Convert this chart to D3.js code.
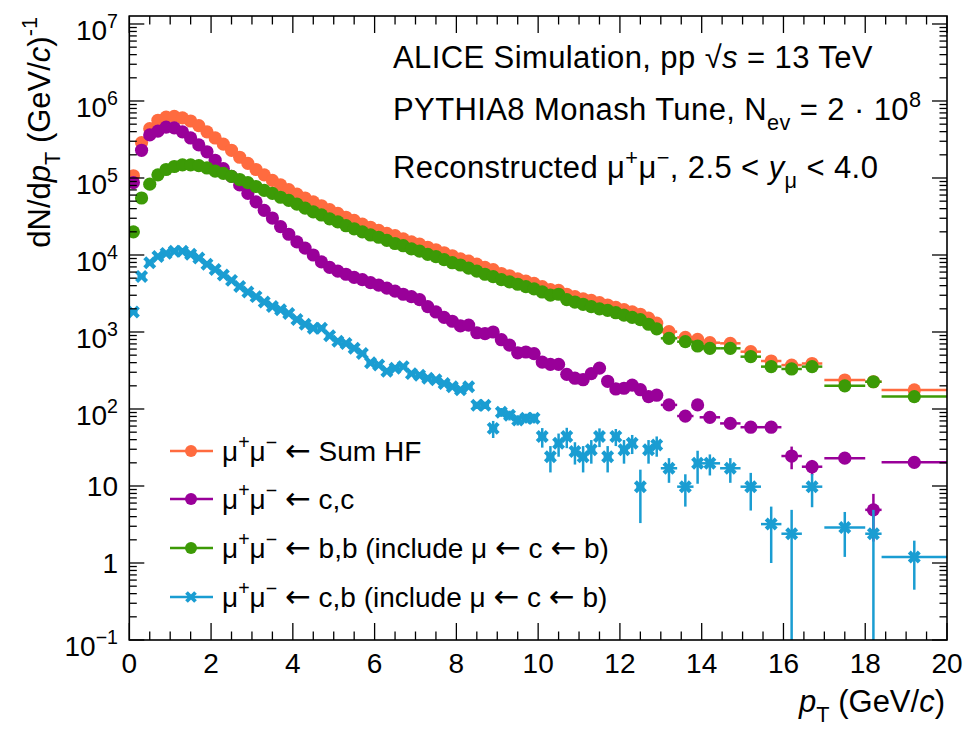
<!DOCTYPE html>
<html><head><meta charset="utf-8">
<script src="https://cdn.jsdelivr.net/npm/d3@7"></script>
<style>body{margin:0;background:#fff} text{font-family:"Liberation Sans",Arial,Helvetica,sans-serif;fill:#000}</style>
</head><body><svg id="c" width="972" height="731"></svg>
<script>
// ---------------- data ----------------
const ptCenter = [0.1,0.3,0.5,0.7,0.9,1.1,1.3,1.5,1.7,1.9,2.1,2.3,2.5,2.7,2.9,3.1,3.3,3.5,3.7,3.9,
  4.1,4.3,4.5,4.7,4.9,5.1,5.3,5.5,5.7,5.9,6.1,6.3,6.5,6.7,6.9,7.1,7.3,7.5,7.7,7.9,
  8.1,8.3,8.5,8.7,8.9,9.1,9.3,9.5,9.7,9.9,10.1,10.3,10.5,10.7,10.9,11.1,11.3,11.5,11.7,11.9,
  12.1,12.3,12.5,12.7,12.9,13.2,13.6,13.9,14.2,14.7,15.2,15.7,16.2,16.7,17.5,18.2,19.2];
const ptHalfWidth = [0.1,0.1,0.1,0.1,0.1,0.1,0.1,0.1,0.1,0.1,0.1,0.1,0.1,0.1,0.1,0.1,0.1,0.1,0.1,0.1,
  0.1,0.1,0.1,0.1,0.1,0.1,0.1,0.1,0.1,0.1,0.1,0.1,0.1,0.1,0.1,0.1,0.1,0.1,0.1,0.1,
  0.1,0.1,0.1,0.1,0.1,0.1,0.1,0.1,0.1,0.1,0.1,0.1,0.1,0.1,0.1,0.1,0.1,0.1,0.1,0.1,
  0.1,0.1,0.1,0.1,0.1,0.2,0.2,0.1,0.25,0.25,0.25,0.25,0.25,0.25,0.5,0.2,0.8];

const sumHF = [107000,288000,437000,562000,617000,631000,603000,550000,479000,398000,
  331000,275000,229000,186000,155000,129000,110000,93300,81300,70800,
  61700,55000,49000,43600,38900,34700,30900,28200,25100,22900,
  20900,19100,17800,16200,14800,13800,12600,11700,10700,9770,
  8910,8320,7590,6920,6460,5750,5370,4900,4570,4270,
  3890,3550,3470,3090,2880,2690,2570,2400,2240,2090,
  1950,1820,1700,1510,1300,
  1010,851,803,726,713,555,420,372,390,238,226,177];

const ccPairs = [87100,229000,363000,407000,457000,447000,398000,331000,269000,219000,
  170000,132000,105000,81300,63100,49000,38000,30200,23400,18600,
  14800,12300,10000,8130,6920,6170,5620,5130,4790,4370,
  4070,3720,3390,3090,2880,2630,2140,1820,1550,1380,
  1200,1230,977,955,1000,794,676,537,550,525,
  407,380,380,282,251,240,288,339,229,182,
  186,204,178,145,151,
  113,81,113,78,65,58,58,24.5,17.8,23,4.9,20.3];
const ccErr = [0,0,0,0,0,0,0,0,0,0,0,0,0,0,0,0,0,0,0,0,
  0,0,0,0,0,0,0,0,0,0,0,0,0,0,0,0,0,0,0,0,
  0,0,0,0,0,0,0,0,0,0,0,0,0,0,0,0,0,0,0,0,
  0,0,0,0,0,
  2,2,2,2,2,4,4,8,4,3,3,2.5];

const bbPairs = [20000,55000,83200,110000,129000,141000,148000,148000,145000,135000,
  123000,115000,105000,95500,87100,77600,69200,63100,56200,51300,
  45700,40700,36300,33100,29500,26900,24000,21900,20000,18200,
  17000,15500,14100,13200,12000,11200,10200,9550,8710,7940,
  7410,6760,6170,5620,5250,4790,4470,4170,3890,3630,
  3310,3020,3090,2630,2450,2290,2140,2000,1910,1780,
  1660,1550,1450,1260,1100,
  828,748,658,614,614,478,355,331,355,200,226,145];

const cbPairs = [1820,5250,7940,9550,10500,11200,11200,10200,9120,7590,
  6460,5500,4680,3890,3310,2880,2450,2140,1950,1740,
  1450,1260,1120,1120,891,759,708,617,525,398,
  372,309,339,355,288,275,251,240,214,195,
  178,195,112,112,56,91,83,72,76,76,
  44,24,36,44,28,24,29.5,44,24,44,
  29.5,36,9.8,29.5,34,
  17,9.8,19.7,19.7,17,9.8,3.2,2.4,9.8,2.9,2.4,1.2];
const cbErr = [0,0,0,0,0,0,0,0,0,0,0,0,0,0,0,0,0,0,0,0,
  0,0,0,0,0,0,0,0,0,0,0,0,0,0,0,0,0,0,0,0,
  0,0,12,12,14,12,12,11,11,11,
  12.5,9,12,13,9,9,10,12,9,11,
  10,10,6.5,10,10,
  6,4.4,9,6,6,5,2.2,2.5,4.5,1.7,2.5,0.75];

const xTickValues = [0,2,4,6,8,10,12,14,16,18,20];
const yTickExponents = [7,6,5,4,3,2,1,0,-1];

// ---------------- layout ----------------
const svg = d3.select('#c');
const X0 = 129.3, X1 = 947, Y0 = 640, Y1 = 16;
const x = d3.scaleLinear().domain([0,20]).range([X0,X1]);
const y = d3.scaleLog().domain([0.1,1.27e7]).range([Y0,Y1]);
const FONT = 28;

function rich(g, xx, yy, parts, size, anchor){
  const t = g.append('text').attr('x',xx).attr('y',yy).attr('font-size',size)
    .attr('text-anchor',anchor||'start');
  let cur = 0;
  parts.forEach(p=>{
    const s = t.append('tspan').text(p.t);
    const off = p.sup ? -size*0.42 : (p.sub ? size*0.32 : 0);
    if (off-cur !== 0) s.attr('dy', off-cur);
    cur = off;
    if (p.sup||p.sub) s.attr('font-size', size*0.7);
    if (p.it) s.attr('font-style','italic');
    if (p.arrow) s.attr('font-family','DejaVu Sans').attr('font-size', size*1.1);
  });
  return t;
}

// clip
svg.append('clipPath').attr('id','clip').append('rect')
  .attr('x',X0).attr('y',Y1).attr('width',X1-X0).attr('height',Y0-Y1);

const series = [
  {vals: sumHF,  err:null,  color:'#ff6b3f', shape:'circle'},
  {vals: ccPairs,err:ccErr, color:'#990099', shape:'circle'},
  {vals: bbPairs,err:null,  color:'#3c9a06', shape:'circle'},
  {vals: cbPairs,err:cbErr, color:'#1a9dd2', shape:'x'}
];

const plot = svg.append('g').attr('clip-path','url(#clip)');
series.forEach(s=>{
  const data = ptCenter.map((p,i)=>({p, hw:ptHalfWidth[i], v:s.vals[i], e:s.err?s.err[i]:0}));
  const g = plot.append('g');
  g.selectAll('line.h').data(data).join('line')
    .attr('x1',d=>x(d.p-d.hw)).attr('x2',d=>x(d.p+d.hw))
    .attr('y1',d=>y(d.v)).attr('y2',d=>y(d.v))
    .attr('stroke',s.color).attr('stroke-width',2.5);
  g.selectAll('line.v').data(data.filter(d=>d.e>0)).join('line')
    .attr('x1',d=>x(d.p)).attr('x2',d=>x(d.p))
    .attr('y1',d=>y(d.v+d.e)).attr('y2',d=>d.v-d.e>0.05 ? y(d.v-d.e) : Y0+5)
    .attr('stroke',s.color).attr('stroke-width',2.5);
  if (s.shape==='circle'){
    g.selectAll('circle').data(data).join('circle')
      .attr('cx',d=>x(d.p)).attr('cy',d=>y(d.v)).attr('r',6.6).attr('fill',s.color);
  } else {
    const a = 5;
    g.selectAll('path').data(data).join('path')
      .attr('d',d=>{const cx=x(d.p), cy=y(d.v);
        return `M${cx-a},${cy-a}L${cx+a},${cy+a}M${cx-a},${cy+a}L${cx+a},${cy-a}`;})
      .attr('stroke',s.color).attr('stroke-width',4.2).attr('fill','none');
  }
});

// ---------------- axes / frame ----------------
const ax = svg.append('g').attr('stroke','#000');
ax.append('rect').attr('x',X0).attr('y',Y1).attr('width',X1-X0).attr('height',Y0-Y1)
  .attr('fill','none').attr('stroke-width',1.6);

const xMinor = d3.range(0,20.001,0.5);
xMinor.forEach(v=>{
  const major = Math.abs(v/2 - Math.round(v/2))<1e-6;
  const L = major?17:8.5;
  ax.append('line').attr('x1',x(v)).attr('x2',x(v)).attr('y1',Y0).attr('y2',Y0-L).attr('stroke-width',1.3);
  ax.append('line').attr('x1',x(v)).attr('x2',x(v)).attr('y1',Y1).attr('y2',Y1+L).attr('stroke-width',1.3);
});
for (let e=-1;e<=7;e++){
  for (let k=1;k<=9;k++){
    const v = k*Math.pow(10,e);
    if (v>1.27e7) continue;
    const L = k===1?15:7.5;
    ax.append('line').attr('x1',X0).attr('x2',X0+L).attr('y1',y(v)).attr('y2',y(v)).attr('stroke-width',1.3);
    ax.append('line').attr('x1',X1).attr('x2',X1-L).attr('y1',y(v)).attr('y2',y(v)).attr('stroke-width',1.3);
  }
}

const lab = svg.append('g');
xTickValues.forEach(v=>{
  lab.append('text').attr('x',x(v)).attr('y',673).attr('font-size',FONT)
    .attr('text-anchor','middle').text(v);
});
yTickExponents.forEach(e=>{
  const ty = y(Math.pow(10,e));
  if (e===0) lab.append('text').attr('x',118).attr('y',ty+10).attr('font-size',FONT).attr('text-anchor','end').text('1');
  else if (e===1) lab.append('text').attr('x',118).attr('y',ty+10).attr('font-size',FONT).attr('text-anchor','end').text('10');
  else rich(lab,118,ty+16,[{t:'10'},{t:(e<0?'\u2212':'')+Math.abs(e),sup:true}],FONT,'end');
});

// axis titles
rich(svg, 945, 712, [{t:'p',it:true},{t:'T',sub:true},{t:' (GeV/'},{t:'c',it:true},{t:')'}], 31, 'end');
const yt = rich(svg, 0, 0, [{t:'dN/d'},{t:'p',it:true},{t:'T',sub:true},{t:' (GeV/'},{t:'c',it:true},{t:')'},{t:'-1',sup:true}], 31, 'end');
yt.attr('transform','translate(50,17) rotate(-90)');

// annotations
const ann = svg.append('g').attr('letter-spacing',0.4);
rich(ann, 393, 68, [{t:'ALICE Simulation, pp  \u221A'},{t:'s',it:true},{t:' = 13 TeV'}], 31);
rich(ann, 393, 120, [{t:'PYTHIA8 Monash Tune, N'},{t:'ev',sub:true},{t:' = 2 \u00B7 10'},{t:'8',sup:true}], 31);
rich(ann, 393, 178, [{t:'Reconstructed \u03BC'},{t:'+',sup:true},{t:'\u03BC'},{t:'\u2212',sup:true},{t:', 2.5 < '},{t:'y',it:true},{t:'\u03BC',sub:true},{t:' < 4.0'}], 31);

// legend
const legendLabels = ['Sum HF','c,c','b,b (include \u03BC ','c,b (include \u03BC '];
const legendTail = [false,false,true,true];
const legendRows = [451,499,548,597];
const lg = svg.append('g');
series.forEach((s,i)=>{
  const ry = legendRows[i];
  lg.append('line').attr('x1',170).attr('x2',213).attr('y1',ry).attr('y2',ry).attr('stroke',s.color).attr('stroke-width',2.5);
  if (s.shape==='circle') lg.append('circle').attr('cx',191).attr('cy',ry).attr('r',6).attr('fill',s.color);
  else { const a=4.5; lg.append('path').attr('d',`M${191-a},${ry-a}L${191+a},${ry+a}M${191-a},${ry+a}L${191+a},${ry-a}`)
      .attr('stroke',s.color).attr('stroke-width',3.8); }
  const parts = [{t:'\u03BC'},{t:'+',sup:true},{t:'\u03BC'},{t:'\u2212',sup:true},{t:' '},{t:'\u2190',arrow:true},{t:' '+legendLabels[i]}];
  if (legendTail[i]) parts.push({t:'\u2190',arrow:true},{t:' c '},{t:'\u2190',arrow:true},{t:' b)'});
  rich(lg, 222, ry+10, parts, 28);
});
</script></body></html>
